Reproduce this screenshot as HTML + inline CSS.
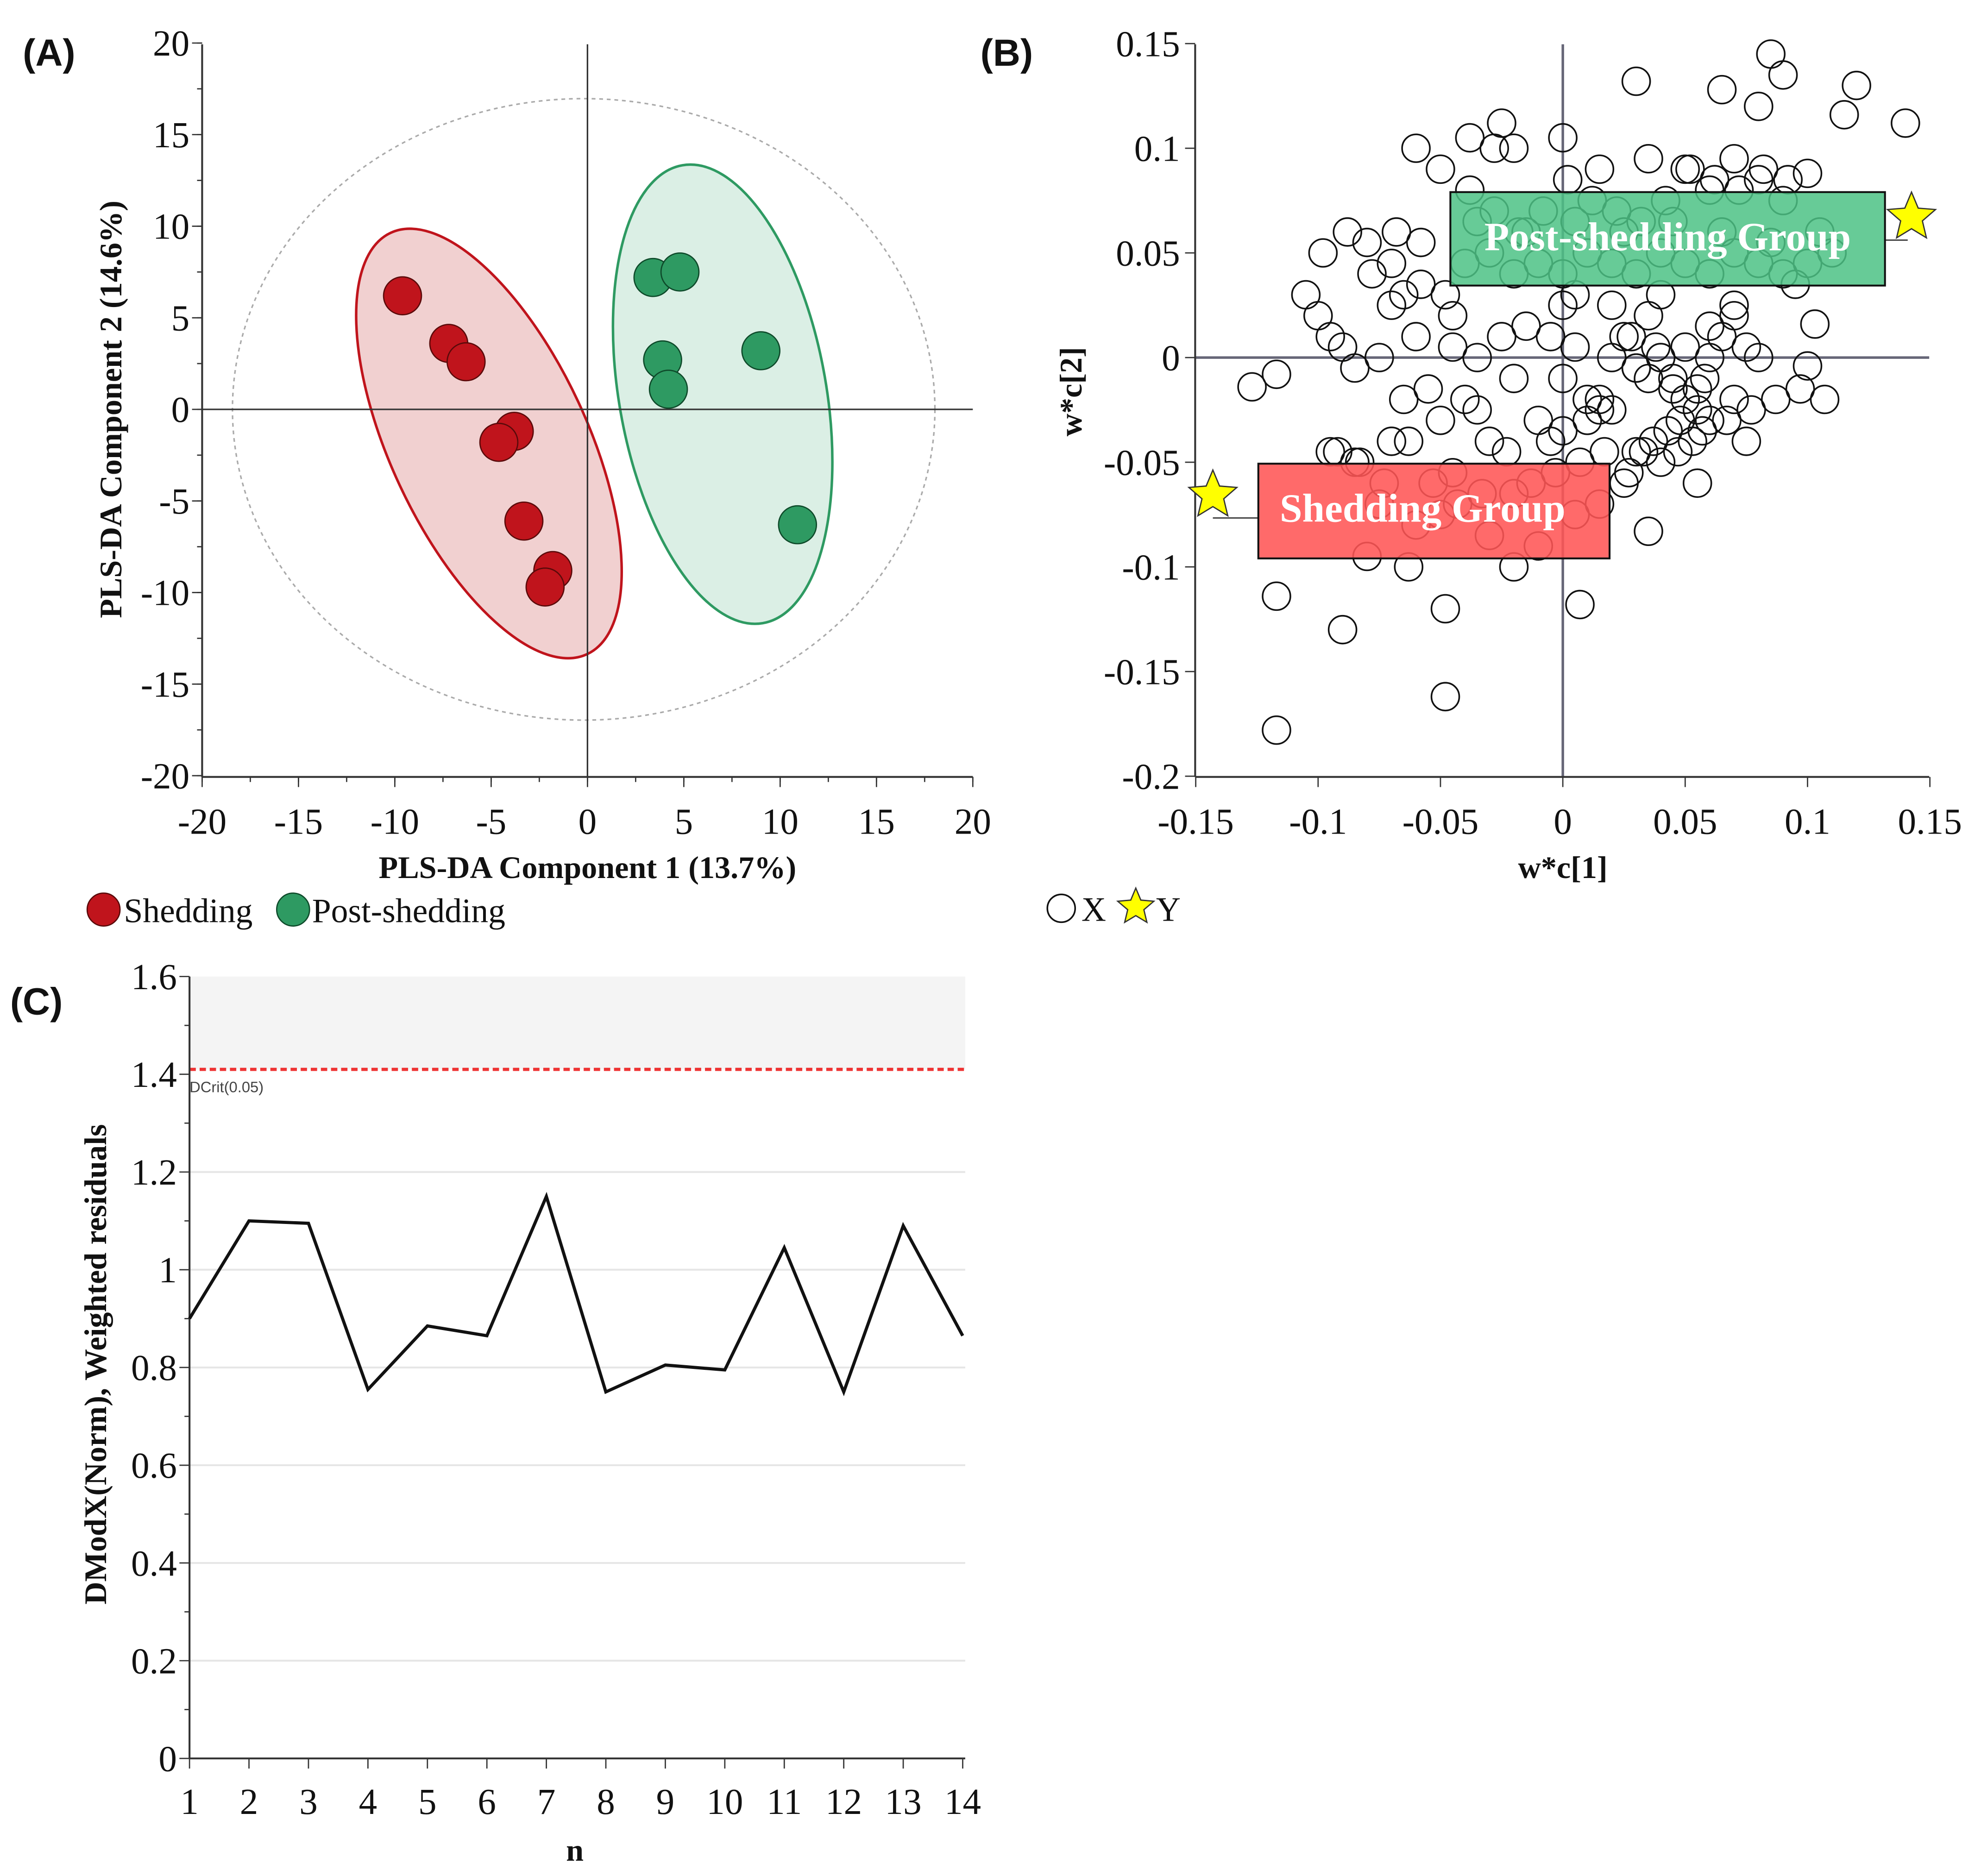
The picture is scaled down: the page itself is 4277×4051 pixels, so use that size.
<!DOCTYPE html>
<html><head><meta charset="utf-8"><style>
html,body{margin:0;padding:0;background:#fff;}
svg{display:block;}
text{font-family:"Liberation Serif",serif;fill:#111;}
.lab{font-family:"Liberation Sans",sans-serif;font-weight:bold;font-size:30px;}
.tk{font-size:29px;}
.ttl{font-weight:bold;font-size:25px;}
</style></head><body>
<svg id="fig" width="4277" height="4051" viewBox="0 0 1568 1485" xmlns="http://www.w3.org/2000/svg">
<g id="gA"></g>
<g id="gB"></g>
<g id="gC"></g>
</svg>
<script>
// Panel A data
const shedX=[-9.6,-7.2,-6.3,-3.8,-4.6,-3.3,-1.8,-2.2];
const shedY=[6.2,3.6,2.6,-1.2,-1.8,-6.1,-8.8,-9.7];
const postX=[3.4,4.8,3.9,4.2,9.0,10.9];
const postY=[7.2,7.5,2.7,1.1,3.2,-6.3];
const aTicks=[-20,-15,-10,-5,0,5,10,15,20];
// Panel B data
const bX=[-0.117,-0.048,-0.09,-0.117,-0.048,0.007,-0.127,-0.117,0.085,0.09,0.03,0.12,0.14,0.115,-0.025,-0.028,0.08,0.065,0.1,0.1,0.103,0.035,-0.02,-0.063,-0.08,
-0.1,-0.095,-0.09,-0.085,-0.075,-0.07,-0.065,-0.06,-0.055,-0.05,-0.045,-0.04,-0.035,-0.03,-0.025,-0.02,-0.015,-0.01,-0.005,0,0.005,0.01,0.015,0.02,0.025,0.03,0.035,0.04,0.045,0.05,0.055,0.06,0.065,0.07,0.075,0.08,
-0.105,-0.098,-0.088,-0.078,-0.068,-0.058,-0.048,-0.038,-0.028,-0.018,-0.008,0.002,0.012,0.022,0.032,0.042,0.052,0.062,0.072,0.082,0.092,
-0.092,-0.083,-0.073,-0.063,-0.053,-0.043,-0.033,-0.023,-0.013,-0.003,0.007,0.017,0.027,0.037,0.047,0.057,0.067,0.077,0.087,0.097,0.107,
-0.04,-0.03,-0.02,-0.01,0,0.01,0.02,0.03,0.04,0.05,0.06,0.07,0.08,0.09,0.1,0.11,-0.035,-0.015,0.005,0.025,0.045,0.065,0.085,0.105,
0.03,0.035,0.04,0.045,0.05,0.055,0.028,0.038,0.048,0.058,0.043,0.053,0.033,0.06,0.07,0.015,0.02,0.01,-0.005,0.0,
-0.085,-0.075,-0.06,-0.05,-0.03,-0.01,0.005,0.025,-0.07,-0.045,-0.02,0.015,0.04,0.06,0.075,-0.095,-0.065,-0.035,0.0,0.03,0.055,
-0.06,-0.05,-0.038,-0.02,0.0,0.015,0.035,0.05,0.06,0.07,0.08,0.09,-0.08,-0.07,-0.058,-0.045,0.005,0.02,0.04,0.07,0.095];
const bY=[-0.178,-0.162,-0.13,-0.114,-0.12,-0.118,-0.014,-0.008,0.145,0.135,0.132,0.13,0.112,0.116,0.112,0.1,0.12,0.128,0.088,-0.004,0.016,-0.083,-0.1,-0.1,-0.095,
0.02,0.01,0.005,-0.005,0.0,0.025,0.03,0.01,-0.015,-0.03,0.005,-0.02,0.0,-0.04,0.01,-0.01,0.015,-0.03,0.01,-0.01,0.005,-0.02,-0.025,0.0,0.01,-0.005,0.02,0.0,-0.01,0.005,-0.015,0.0,0.01,-0.02,0.005,0.0,
0.03,0.05,0.06,0.04,0.06,0.055,0.03,0.08,0.07,0.06,0.07,0.085,0.075,0.07,0.065,0.075,0.09,0.085,0.08,0.09,0.085,
-0.045,-0.05,-0.06,-0.04,-0.06,-0.07,-0.065,-0.045,-0.06,-0.055,-0.05,-0.045,-0.055,-0.04,-0.045,-0.035,-0.03,-0.025,-0.02,-0.015,-0.02,
0.045,0.05,0.04,0.045,0.04,0.05,0.045,0.04,0.05,0.045,0.04,0.05,0.045,0.04,0.045,0.05,0.065,0.06,0.065,0.06,0.065,0.06,0.055,0.06,
-0.005,-0.01,0.0,-0.015,-0.02,-0.025,0.01,0.005,-0.03,-0.01,-0.035,-0.04,-0.045,0.015,0.02,-0.02,-0.025,-0.03,-0.04,0.025,
-0.05,-0.07,-0.08,-0.075,-0.085,-0.09,-0.075,-0.06,-0.04,-0.055,-0.065,-0.07,-0.05,-0.03,-0.04,-0.045,-0.02,-0.025,-0.035,-0.045,-0.06,
0.1,0.09,0.105,0.1,0.105,0.09,0.095,0.09,0.08,0.095,0.085,0.075,0.055,0.045,0.035,0.02,0.03,0.025,0.03,0.025,0.035];
const bTicksX=[-0.15,-0.1,-0.05,0,0.05,0.1,0.15];
const bTicksXL=["-0.15","-0.1","-0.05","0","0.05","0.1","0.15"];
const bTicksY=[0.15,0.1,0.05,0,-0.05,-0.1,-0.15,-0.2];
const bTicksYL=["0.15","0.1","0.05","0","-0.05","-0.1","-0.15","-0.2"];
// Panel C data
const cN=[1,2,3,4,5,6,7,8,9,10,11,12,13,14];
const cV=[0.9,1.1,1.095,0.755,0.885,0.865,1.15,0.75,0.805,0.795,1.045,0.75,1.09,0.865];
const cTicks=[0,0.2,0.4,0.6,0.8,1,1.2,1.4,1.6];
const cTickL=["0","0.2","0.4","0.6","0.8","1","1.2","1.4","1.6"];
const cCrit=1.41;

const NS="http://www.w3.org/2000/svg";
function mk(p,tag,at,txt){const e=document.createElementNS(NS,tag);for(const k in at)e.setAttribute(k,at[k]);if(txt!==undefined)e.textContent=txt;p.appendChild(e);return e;}

// ---- Panel A
const gA=document.getElementById('gA');
const ax=v=>465+v*15.25, ay=v=>324-v*14.5;
let t=mk(gA,'text',{x:18,y:52,class:'lab'},'(A)');


let e=mk(gA,'ellipse',{cx:462,cy:324,rx:278,ry:246,fill:'none',stroke:'#aaa','stroke-dasharray':'3,3','stroke-width':1.2});


e=mk(gA,'ellipse',{cx:387,cy:351,rx:78,ry:184,transform:'rotate(-25 387 351)',fill:'rgba(210,100,100,0.3)',stroke:'#c0141c','stroke-width':2});


e=mk(gA,'ellipse',{cx:572,cy:312,rx:82,ry:184,transform:'rotate(-10 572 312)',fill:'rgba(110,190,150,0.25)',stroke:'#2e9a62','stroke-width':2});


mk(gA,'line',{x1:160,y1:324,x2:770,y2:324,stroke:'#333','stroke-width':1.2});
mk(gA,'line',{x1:465,y1:35,x2:465,y2:615,stroke:'#333','stroke-width':1.2});
mk(gA,'line',{x1:160,y1:35,x2:160,y2:615,stroke:'#333','stroke-width':1.5});
mk(gA,'line',{x1:160,y1:615,x2:770,y2:615,stroke:'#333','stroke-width':1.5});
aTicks.forEach(v=>{
  mk(gA,'line',{x1:ax(v),y1:615,x2:ax(v),y2:623,stroke:'#333'});
  t=mk(gA,'text',{x:ax(v),y:660,class:'tk','text-anchor':'middle'},String(v));
  
  
  mk(gA,'line',{x1:152,y1:ay(v),x2:160,y2:ay(v),stroke:'#333'});
  t=mk(gA,'text',{x:150,y:ay(v)+10,class:'tk','text-anchor':'end'},String(v));
  
  
});
for(let v=-20;v<=20;v+=2.5){mk(gA,'line',{x1:ax(v),y1:615,x2:ax(v),y2:619,stroke:'#333'});mk(gA,'line',{x1:156,y1:ay(v),x2:160,y2:ay(v),stroke:'#333'});}
shedX.forEach((v,i)=>{const c=mk(gA,'circle',{cx:ax(v),cy:ay(shedY[i]),r:15,fill:'#c0141c',stroke:'#5a0a0a','stroke-width':1});

});
postX.forEach((v,i)=>{const c=mk(gA,'circle',{cx:ax(v),cy:ay(postY[i]),r:15,fill:'#2e9a62',stroke:'#0e4a2a','stroke-width':1});

});
t=mk(gA,'text',{x:465,y:695,class:'ttl','text-anchor':'middle'},'PLS-DA Component 1 (13.7%)');


t=mk(gA,'text',{x:0,y:0,class:'ttl','text-anchor':'middle',transform:'translate(96 324) rotate(-90)'},'PLS-DA Component 2 (14.6%)');


let c=mk(gA,'circle',{cx:82,cy:720,r:13,fill:'#c0141c',stroke:'#5a0a0a'});


t=mk(gA,'text',{x:98,y:730,style:'font-size:27px'},'Shedding');


c=mk(gA,'circle',{cx:232,cy:720,r:13,fill:'#2e9a62',stroke:'#0e4a2a'});


t=mk(gA,'text',{x:247,y:730,style:'font-size:27px'},'Post-shedding');



// ---- Panel B
const gB=document.getElementById('gB');
const bx=v=>1237+v*1937, by=v=>283-v*1657;
t=mk(gB,'text',{x:776,y:52,class:'lab'},'(B)');


mk(gB,'line',{x1:946,y1:283,x2:1527,y2:283,stroke:'#667','stroke-width':2});
mk(gB,'line',{x1:1237,y1:35,x2:1237,y2:615,stroke:'#667','stroke-width':2});
mk(gB,'line',{x1:946,y1:35,x2:946,y2:615,stroke:'#333','stroke-width':1.5});
mk(gB,'line',{x1:946,y1:615,x2:1527,y2:615,stroke:'#333','stroke-width':1.5});
bTicksX.forEach((v,i)=>{mk(gB,'line',{x1:bx(v),y1:615,x2:bx(v),y2:623,stroke:'#333'});
 t=mk(gB,'text',{x:bx(v),y:660,class:'tk','text-anchor':'middle'},bTicksXL[i]);
 
 });
bTicksY.forEach((v,i)=>{mk(gB,'line',{x1:938,y1:by(v),x2:946,y2:by(v),stroke:'#333'});
 t=mk(gB,'text',{x:934,y:by(v)+10,class:'tk','text-anchor':'end'},bTicksYL[i]);
 
 });
bX.forEach((v,i)=>{const p=mk(gB,'circle',{cx:bx(v),cy:by(bY[i]),r:11,fill:'none',stroke:'#111','stroke-width':1.3});

});
mk(gB,'line',{x1:1492,y1:190,x2:1510,y2:190,stroke:'#333'});
mk(gB,'line',{x1:960,y1:410,x2:996,y2:410,stroke:'#333'});
let r=mk(gB,'rect',{x:1148,y:152,width:344,height:74,fill:'#4cc285','fill-opacity':0.85,stroke:'#111','stroke-width':1.5});


t=mk(gB,'text',{x:1320,y:198,'text-anchor':'middle',style:'font-size:32px;font-weight:bold;fill:#fff'},'Post-shedding Group');


r=mk(gB,'rect',{x:996,y:367,width:278,height:75,fill:'#ff5555','fill-opacity':0.88,stroke:'#111','stroke-width':1.5});


t=mk(gB,'text',{x:1126,y:413,'text-anchor':'middle',style:'font-size:32px;font-weight:bold;fill:#fff'},'Shedding Group');


function star(cx,cy,R){let s='';for(let k=0;k<10;k++){const a=-Math.PI/2+k*Math.PI/5,rr=k%2?R*0.45:R;s+=(cx+rr*Math.cos(a)).toFixed(1)+','+(cy+rr*Math.sin(a)).toFixed(1)+' ';}return s;}
let s=mk(gB,'polygon',{points:star(1513,172,20),fill:'#ffff00',stroke:'#333','stroke-width':1});


s=mk(gB,'polygon',{points:star(960,392,20),fill:'#ffff00',stroke:'#333','stroke-width':1});


t=mk(gB,'text',{x:1237,y:695,class:'ttl','text-anchor':'middle'},'w*c[1]');


t=mk(gB,'text',{x:0,y:0,class:'ttl','text-anchor':'middle',transform:'translate(856 310) rotate(-90)'},'w*c[2]');


c=mk(gB,'circle',{cx:840,cy:719,r:11,fill:'none',stroke:'#111','stroke-width':1.3});


t=mk(gB,'text',{x:856,y:729,style:'font-size:27px'},'X');


s=mk(gB,'polygon',{points:star(899,718,15),fill:'#ffff00',stroke:'#333'});


t=mk(gB,'text',{x:915,y:729,style:'font-size:27px'},'Y');



// ---- Panel C
const gC=document.getElementById('gC');
const cx=v=>150+(v-1)*(612/13), cy=v=>1392-v*(619/1.6);
t=mk(gC,'text',{x:8,y:803,class:'lab'},'(C)');


r=mk(gC,'rect',{x:150,y:cy(1.6),width:614,height:cy(cCrit)-cy(1.6),fill:'#f4f4f4'});


cTicks.forEach((v,i)=>{if(v>0&&v<1.4)mk(gC,'line',{x1:150,y1:cy(v),x2:764,y2:cy(v),stroke:'#e6e6e6','stroke-width':1.5});
 mk(gC,'line',{x1:142,y1:cy(v),x2:150,y2:cy(v),stroke:'#333'});
 t=mk(gC,'text',{x:140,y:cy(v)+10,class:'tk','text-anchor':'end'},cTickL[i]);
 
 });
for(let v=0.1;v<1.6;v+=0.2)mk(gC,'line',{x1:146,y1:cy(v),x2:150,y2:cy(v),stroke:'#333'});
const crit=mk(gC,'line',{x1:150,y1:cy(cCrit),x2:764,y2:cy(cCrit),stroke:'#ee3333','stroke-width':2.5,'stroke-dasharray':'5,3'});


t=mk(gC,'text',{x:150,y:cy(cCrit)+18,style:'font-family:Liberation Sans,sans-serif;font-size:12px;fill:#444'},'DCrit(0.05)');


mk(gC,'line',{x1:150,y1:773,x2:150,y2:1392,stroke:'#333','stroke-width':1.5});
mk(gC,'line',{x1:150,y1:1392,x2:764,y2:1392,stroke:'#333','stroke-width':1.5});
cN.forEach(n=>{mk(gC,'line',{x1:cx(n),y1:1392,x2:cx(n),y2:1400,stroke:'#333'});
 t=mk(gC,'text',{x:cx(n),y:1436,class:'tk','text-anchor':'middle'},String(n));
 
 });
const ln=mk(gC,'polyline',{points:cN.map((n,i)=>cx(n)+','+cy(cV[i])).join(' '),fill:'none',stroke:'#111','stroke-width':2.5});


t=mk(gC,'text',{x:455,y:1473,class:'ttl','text-anchor':'middle'},'n');


t=mk(gC,'text',{x:0,y:0,class:'ttl','text-anchor':'middle',transform:'translate(84 1080) rotate(-90)'},'DModX(Norm), Weighted residuals');


</script>
</body></html>
